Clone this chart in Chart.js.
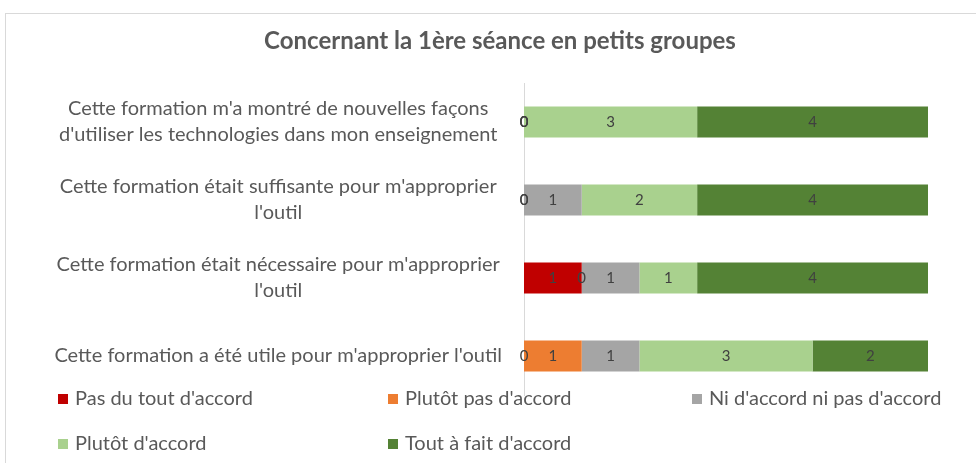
<!DOCTYPE html>
<html>
<head>
<meta charset="utf-8">
<script src="https://cdn.jsdelivr.net/npm/chart.js@4.4.1/dist/chart.umd.min.js"></script>
<style>
  html, body { margin: 0; padding: 0; background: #fff; }
  #wrap { position: relative; width: 976px; height: 463px; overflow: hidden; }
  #frame { position: absolute; left: 5px; top: 13px; width: 1000px; height: 500px;
           border-left: 1px solid #d9d9d9; border-top: 1px solid #d9d9d9; }
  #chartBox { position: absolute; left: 0; top: 0; width: 976px; height: 463px; }
  .leg { position: absolute; font-family: Lato, "Open Sans", sans-serif; font-size: 20px;
         color: #595959; white-space: nowrap; line-height: 24px; }
  .leg i { display: inline-block; width: 10px; height: 10px; margin-right: 7px; vertical-align: 1px; }
</style>
</head>
<body>
<div id="wrap">
  <div id="frame"></div>
  <div id="chartBox"><canvas id="myChart"></canvas></div>
  <div id="legend"></div>
</div>
<script>
// données
var titre = 'Concernant la 1ère séance en petits groupes';
var categories = [
    ["Cette formation m'a montré de nouvelles façons", "d'utiliser les technologies dans mon enseignement"],
    ["Cette formation était suffisante pour m'approprier", "l'outil"],
    ["Cette formation était nécessaire pour m'approprier", "l'outil"],
    "Cette formation a été utile pour m'approprier l'outil"
];
var seriesNames = ["Pas du tout d'accord", "Plutôt pas d'accord", "Ni d'accord ni pas d'accord", "Plutôt d'accord", "Tout à fait d'accord"];
var pasDuTout = [0, 0, 1, 0];
var plutotPas = [0, 0, 0, 1];
var niNi = [0, 1, 1, 1];
var plutot = [3, 2, 1, 3];
var toutAFait = [4, 4, 4, 2];
var colors = ['#c00000', '#ed7d31', '#a5a5a5', '#a9d18e', '#548235'];

var values = [pasDuTout, plutotPas, niNi, plutot, toutAFait];
var fontFam = 'Lato, "Open Sans", sans-serif';

// etiquettes de valeurs (pas de plugin datalabels dispo)
var valueLabels = {
    id: 'valueLabels',
    afterDatasetsDraw: function (chart) {
        var ctx = chart.ctx;
        ctx.save();
        ctx.font = '15px ' + fontFam;
        ctx.fillStyle = '#404040';
        ctx.textAlign = 'center';
        ctx.textBaseline = 'middle';
        chart.data.datasets.forEach(function (ds, i) {
            var meta = chart.getDatasetMeta(i);
            meta.data.forEach(function (el, j) {
                var p = el.getProps(['x', 'y', 'base'], true);
                ctx.fillText(ds.data[j], (p.x + p.base) / 2, p.y);
            });
        });
        ctx.restore();
    }
};

// titre centré sur la zone du graphique d'origine (pas sur le canvas)
var titrePlugin = {
    id: 'titrePlugin',
    afterDraw: function (chart) {
        var ctx = chart.ctx;
        ctx.save();
        ctx.font = 'bold 24px ' + fontFam;
        ctx.fillStyle = '#595959';
        ctx.textAlign = 'center';
        ctx.textBaseline = 'middle';
        ctx.fillText(titre, 500, 41);
        ctx.restore();
    }
};

var datasets = seriesNames.map(function (name, i) {
    return {
        label: name,
        data: values[i],
        backgroundColor: colors[i],
        borderWidth: 0,
        barPercentage: 0.5,
        categoryPercentage: 0.8
    };
});

var ctx = document.getElementById('myChart');
var myChart = new Chart(ctx, {
    type: 'bar',
    data: { labels: categories, datasets: datasets },
    plugins: [valueLabels, titrePlugin],
    options: {
        indexAxis: 'y',
        responsive: true,
        maintainAspectRatio: false,
        animation: false,
        layout: { padding: { top: 83, left: 30, right: 48, bottom: 68 } },
        plugins: {
            legend: { display: false },
            tooltip: { enabled: false },
            title: { display: false }
        },
        scales: {
            x: { stacked: true, min: 0, max: 7, display: false },
            y: {
                stacked: true,
                grid: { display: false, drawTicks: false },
                border: { display: true, color: '#d9d9d9' },
                ticks: {
                    color: '#595959',
                    crossAlign: 'center',
                    padding: 22,
                    font: { family: fontFam, size: 20, lineHeight: 1.3 }
                },
                afterFit: function (scale) { scale.width = 494; }
            }
        }
    }
});

// legende HTML en grille
var legPos = [[58, 397], [388, 397], [692, 397], [58, 442], [388, 442]];
var legend = document.getElementById('legend');
seriesNames.forEach(function (name, i) {
    var d = document.createElement('div');
    d.className = 'leg';
    d.style.left = legPos[i][0] + 'px';
    d.style.top = (legPos[i][1] - 12) + 'px';
    d.innerHTML = '<i style="background:' + colors[i] + '"></i>' + name;
    legend.appendChild(d);
});
</script>
</body>
</html>
